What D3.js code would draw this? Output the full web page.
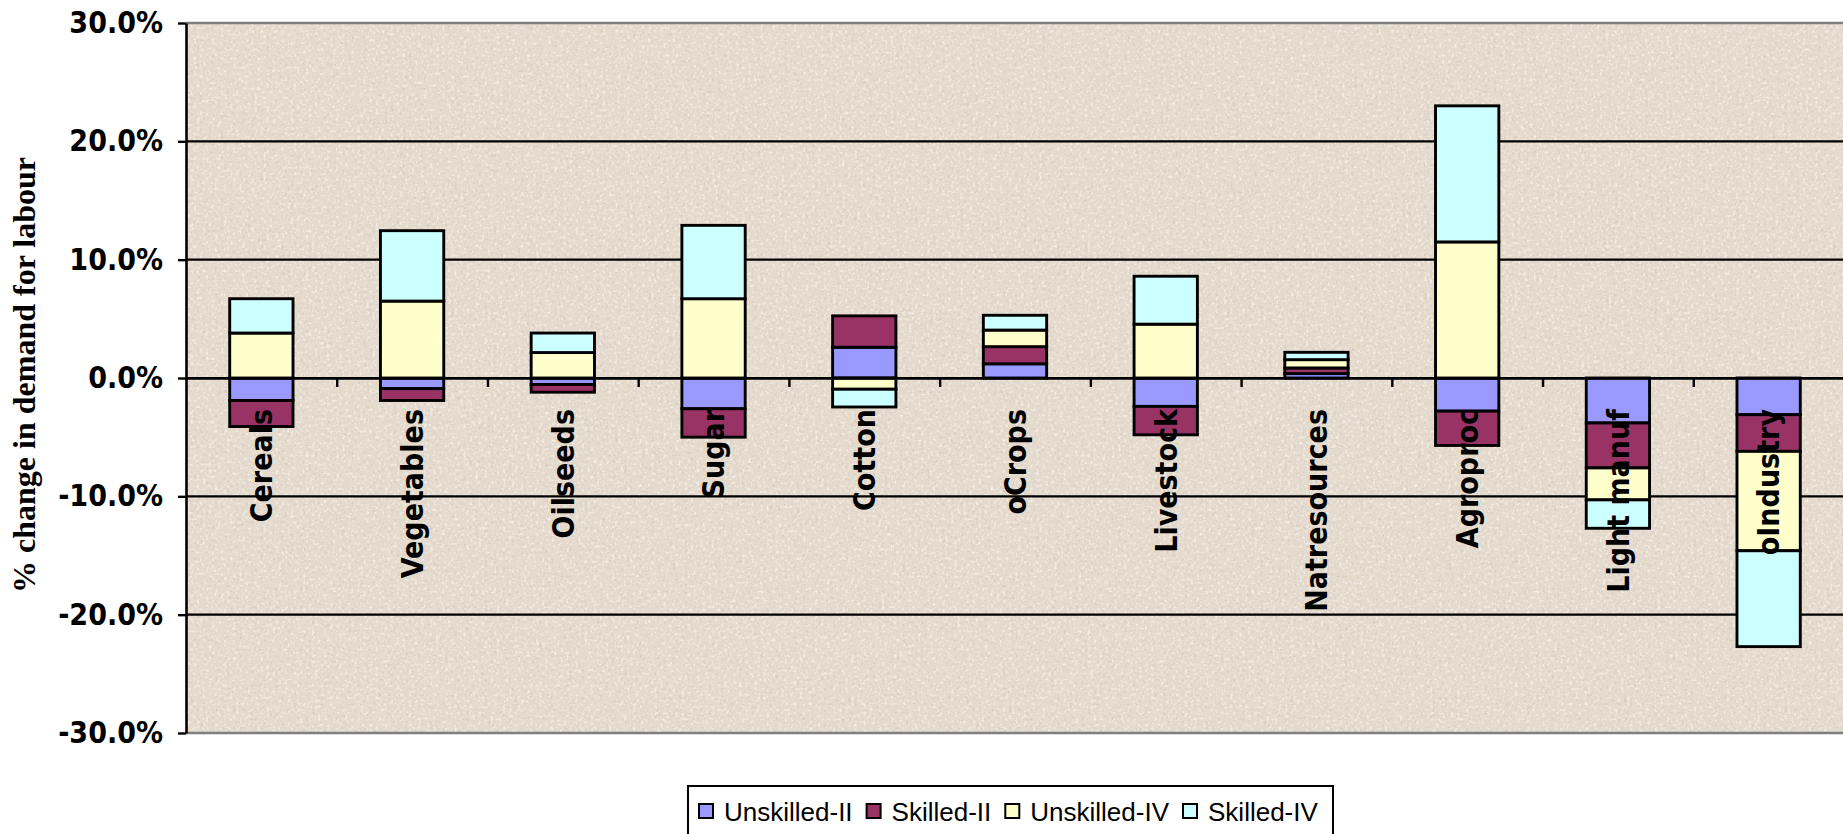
<!DOCTYPE html>
<html>
<head>
<meta charset="utf-8">
<script src="https://cdn.jsdelivr.net/npm/d3@7/dist/d3.min.js"></script>
<style>
  html, body { margin: 0; padding: 0; background: #ffffff; }
  svg { display: block; }
</style>
</head>
<body>
<svg id="chart" width="1843" height="834"></svg>
<script>
// Sectors on the horizontal axis
const categories = ["Cereals", "Vegetables", "Oilseeds", "Sugar", "Cotton", "oCrops",
                    "Livestock", "Natresources", "Agroproc", "Light manuf", "oIndustry"];

// Series names, in stacking order
const seriesNames = ["Unskilled-II", "Skilled-II", "Unskilled-IV", "Skilled-IV"];

// % change in demand for labour, one array per labour type
const unskilledII = [-1.9, -0.9, -0.55, -2.6, 2.6, 1.2, -2.4, 0.37, -2.8, -3.8, -3.1];
const skilledII   = [-2.2, -1.0, -0.65, -2.4, 2.65, 1.45, -2.4, 0.48, -2.9, -3.8, -3.1];
const unskilledIV = [3.8, 6.5, 2.15, 6.7, -0.95, 1.4, 4.55, 0.7, 11.5, -2.7, -8.4];
const skilledIV   = [2.9, 5.95, 1.65, 6.2, -1.5, 1.25, 4.05, 0.62, 11.5, -2.4, -8.1];

// Y axis tick values (percent)
const yTicks = [30, 20, 10, 0, -10, -20, -30];

const seriesColors = ["#9999ff", "#993366", "#ffffcc", "#ccffff"];

// Build rows for the stack layout
const seriesValues = [unskilledII, skilledII, unskilledIV, skilledIV];
const rows = categories.map((c, i) => {
  const r = { category: c };
  seriesNames.forEach((s, k) => { r[s] = seriesValues[k][i]; });
  return r;
});

const svg = d3.select("#chart");
const plot = { left: 186, right: 1844, top: 23, bottom: 733 };

const x = d3.scaleBand()
  .domain(categories)
  .range([plot.left, plot.right])
  .paddingInner(0.58)
  .paddingOuter(0.29);

const y = d3.scaleLinear().domain([-30, 30]).range([plot.bottom, plot.top]);

// ---- textured plot background ----
const defs = svg.append("defs");
const f = defs.append("filter").attr("id", "grain")
  .attr("x", 0).attr("y", 0).attr("width", "100%").attr("height", "100%");
f.append("feTurbulence").attr("type", "fractalNoise").attr("baseFrequency", 0.33)
  .attr("numOctaves", 2).attr("seed", 7).attr("result", "noise");
f.append("feColorMatrix").attr("in", "noise").attr("type", "matrix")
  .attr("values", "0 0 0 0 0.66  0 0 0 0 0.57  0 0 0 0 0.47  4.2 0 0 0 -2.25")
  .attr("result", "dark");
f.append("feColorMatrix").attr("in", "noise").attr("type", "matrix")
  .attr("values", "0 0 0 0 0.97  0 0 0 0 0.95  0 0 0 0 0.92  0 -4.2 0 0 1.95")
  .attr("result", "light");
const fm = f.append("feMerge");
fm.append("feMergeNode").attr("in", "dark");
fm.append("feMergeNode").attr("in", "light");

svg.append("rect")
  .attr("x", plot.left).attr("y", plot.top)
  .attr("width", plot.right - plot.left).attr("height", plot.bottom - plot.top)
  .attr("fill", "#e4dacd");
svg.append("rect")
  .attr("x", plot.left).attr("y", plot.top)
  .attr("width", plot.right - plot.left).attr("height", plot.bottom - plot.top)
  .attr("fill", "#000")
  .attr("filter", "url(#grain)")
  .attr("opacity", 0.6);

// ---- gridlines ----
svg.append("g")
  .selectAll("line")
  .data(yTicks.filter(t => t !== 30 && t !== -30))
  .join("line")
  .attr("x1", plot.left).attr("x2", plot.right)
  .attr("y1", d => y(d)).attr("y2", d => y(d))
  .attr("stroke", "#000").attr("stroke-width", 2.2);

// plot border (top and bottom grey)
svg.append("line")
  .attr("x1", plot.left).attr("x2", plot.right)
  .attr("y1", plot.top).attr("y2", plot.top)
  .attr("stroke", "#7f7f7f").attr("stroke-width", 2.5);
svg.append("line")
  .attr("x1", plot.left).attr("x2", plot.right)
  .attr("y1", plot.bottom).attr("y2", plot.bottom)
  .attr("stroke", "#7f7f7f").attr("stroke-width", 2.5);

// ---- stacked bars (positive and negative stacked separately) ----
const stack = d3.stack().keys(seriesNames).offset(d3.stackOffsetDiverging);
const layers = stack(rows);

svg.append("g")
  .selectAll("g")
  .data(layers)
  .join("g")
  .attr("fill", (d, i) => seriesColors[i])
  .selectAll("rect")
  .data(d => d)
  .join("rect")
  .attr("x", d => x(d.data.category))
  .attr("width", x.bandwidth())
  .attr("y", d => y(Math.max(d[0], d[1])))
  .attr("height", d => Math.abs(y(d[0]) - y(d[1])))
  .attr("stroke", "#000")
  .attr("stroke-width", 2.9);

// ---- x axis at zero, with ticks between categories ----
const boundary = d3.scaleLinear().domain([0, categories.length]).range([plot.left, plot.right]);
const xAxis = svg.append("g")
  .attr("transform", `translate(0,${y(0)})`)
  .call(d3.axisBottom(boundary)
    .tickValues(d3.range(1, categories.length))
    .tickFormat("")
    .tickSize(9)
    .tickSizeOuter(0));
xAxis.select(".domain").attr("stroke", "#000").attr("stroke-width", 2.4);
xAxis.selectAll(".tick line").attr("stroke", "#000").attr("stroke-width", 2.4);

// ---- y axis ----
const yAxis = svg.append("g")
  .attr("transform", `translate(${plot.left},0)`)
  .call(d3.axisLeft(y)
    .tickValues(yTicks)
    .tickFormat(d => d.toFixed(1) + "%")
    .tickSize(8)
    .tickPadding(15)
    .tickSizeOuter(0));
yAxis.select(".domain").attr("stroke", "#000").attr("stroke-width", 2.6);
yAxis.selectAll(".tick line").attr("stroke", "#000").attr("stroke-width", 2.4);
yAxis.selectAll(".tick text")
  .attr("fill", "#000")
  .style("font-family", "'DejaVu Sans Condensed', 'DejaVu Sans', sans-serif")
  .style("font-stretch", "condensed")
  .style("font-weight", "bold")
  .style("font-size", "30px");

// ---- category labels, vertical, drawn over the bars ----
svg.append("g")
  .selectAll("text")
  .data(categories)
  .join("text")
  .attr("transform", d => `translate(${x(d) + x.bandwidth() / 2},409) rotate(-90)`)
  .attr("dy", "0.36em")
  .attr("text-anchor", "end")
  .style("font-family", "'DejaVu Sans Condensed', 'DejaVu Sans', sans-serif")
  .style("font-stretch", "condensed")
  .style("font-weight", "bold")
  .style("font-size", "30px")
  .attr("fill", "#000")
  .text(d => d);

// ---- y axis title ----
svg.append("text")
  .attr("transform", "translate(35,375) rotate(-90)")
  .attr("text-anchor", "middle")
  .style("font-family", "'Liberation Serif', 'Times New Roman', serif")
  .style("font-weight", "bold")
  .style("font-size", "32px")
  .attr("fill", "#000")
  .text("% change in demand for labour");

// ---- legend ----
const legend = svg.append("g");
legend.append("rect")
  .attr("x", 688).attr("y", 786)
  .attr("width", 645).attr("height", 70)
  .attr("fill", "#fff").attr("stroke", "#000").attr("stroke-width", 2);

let lx = 699;
seriesNames.forEach((s, i) => {
  legend.append("rect")
    .attr("x", lx).attr("y", 804)
    .attr("width", 14).attr("height", 14)
    .attr("fill", seriesColors[i])
    .attr("stroke", "#000").attr("stroke-width", 2);
  const t = legend.append("text")
    .attr("x", lx + 25).attr("y", 821)
    .style("font-family", "'Liberation Sans', Arial, sans-serif")
    .style("font-size", "26px")
    .attr("fill", "#000")
    .text(s);
  lx += 25 + t.node().getComputedTextLength() + 14;
});
</script>
</body>
</html>
